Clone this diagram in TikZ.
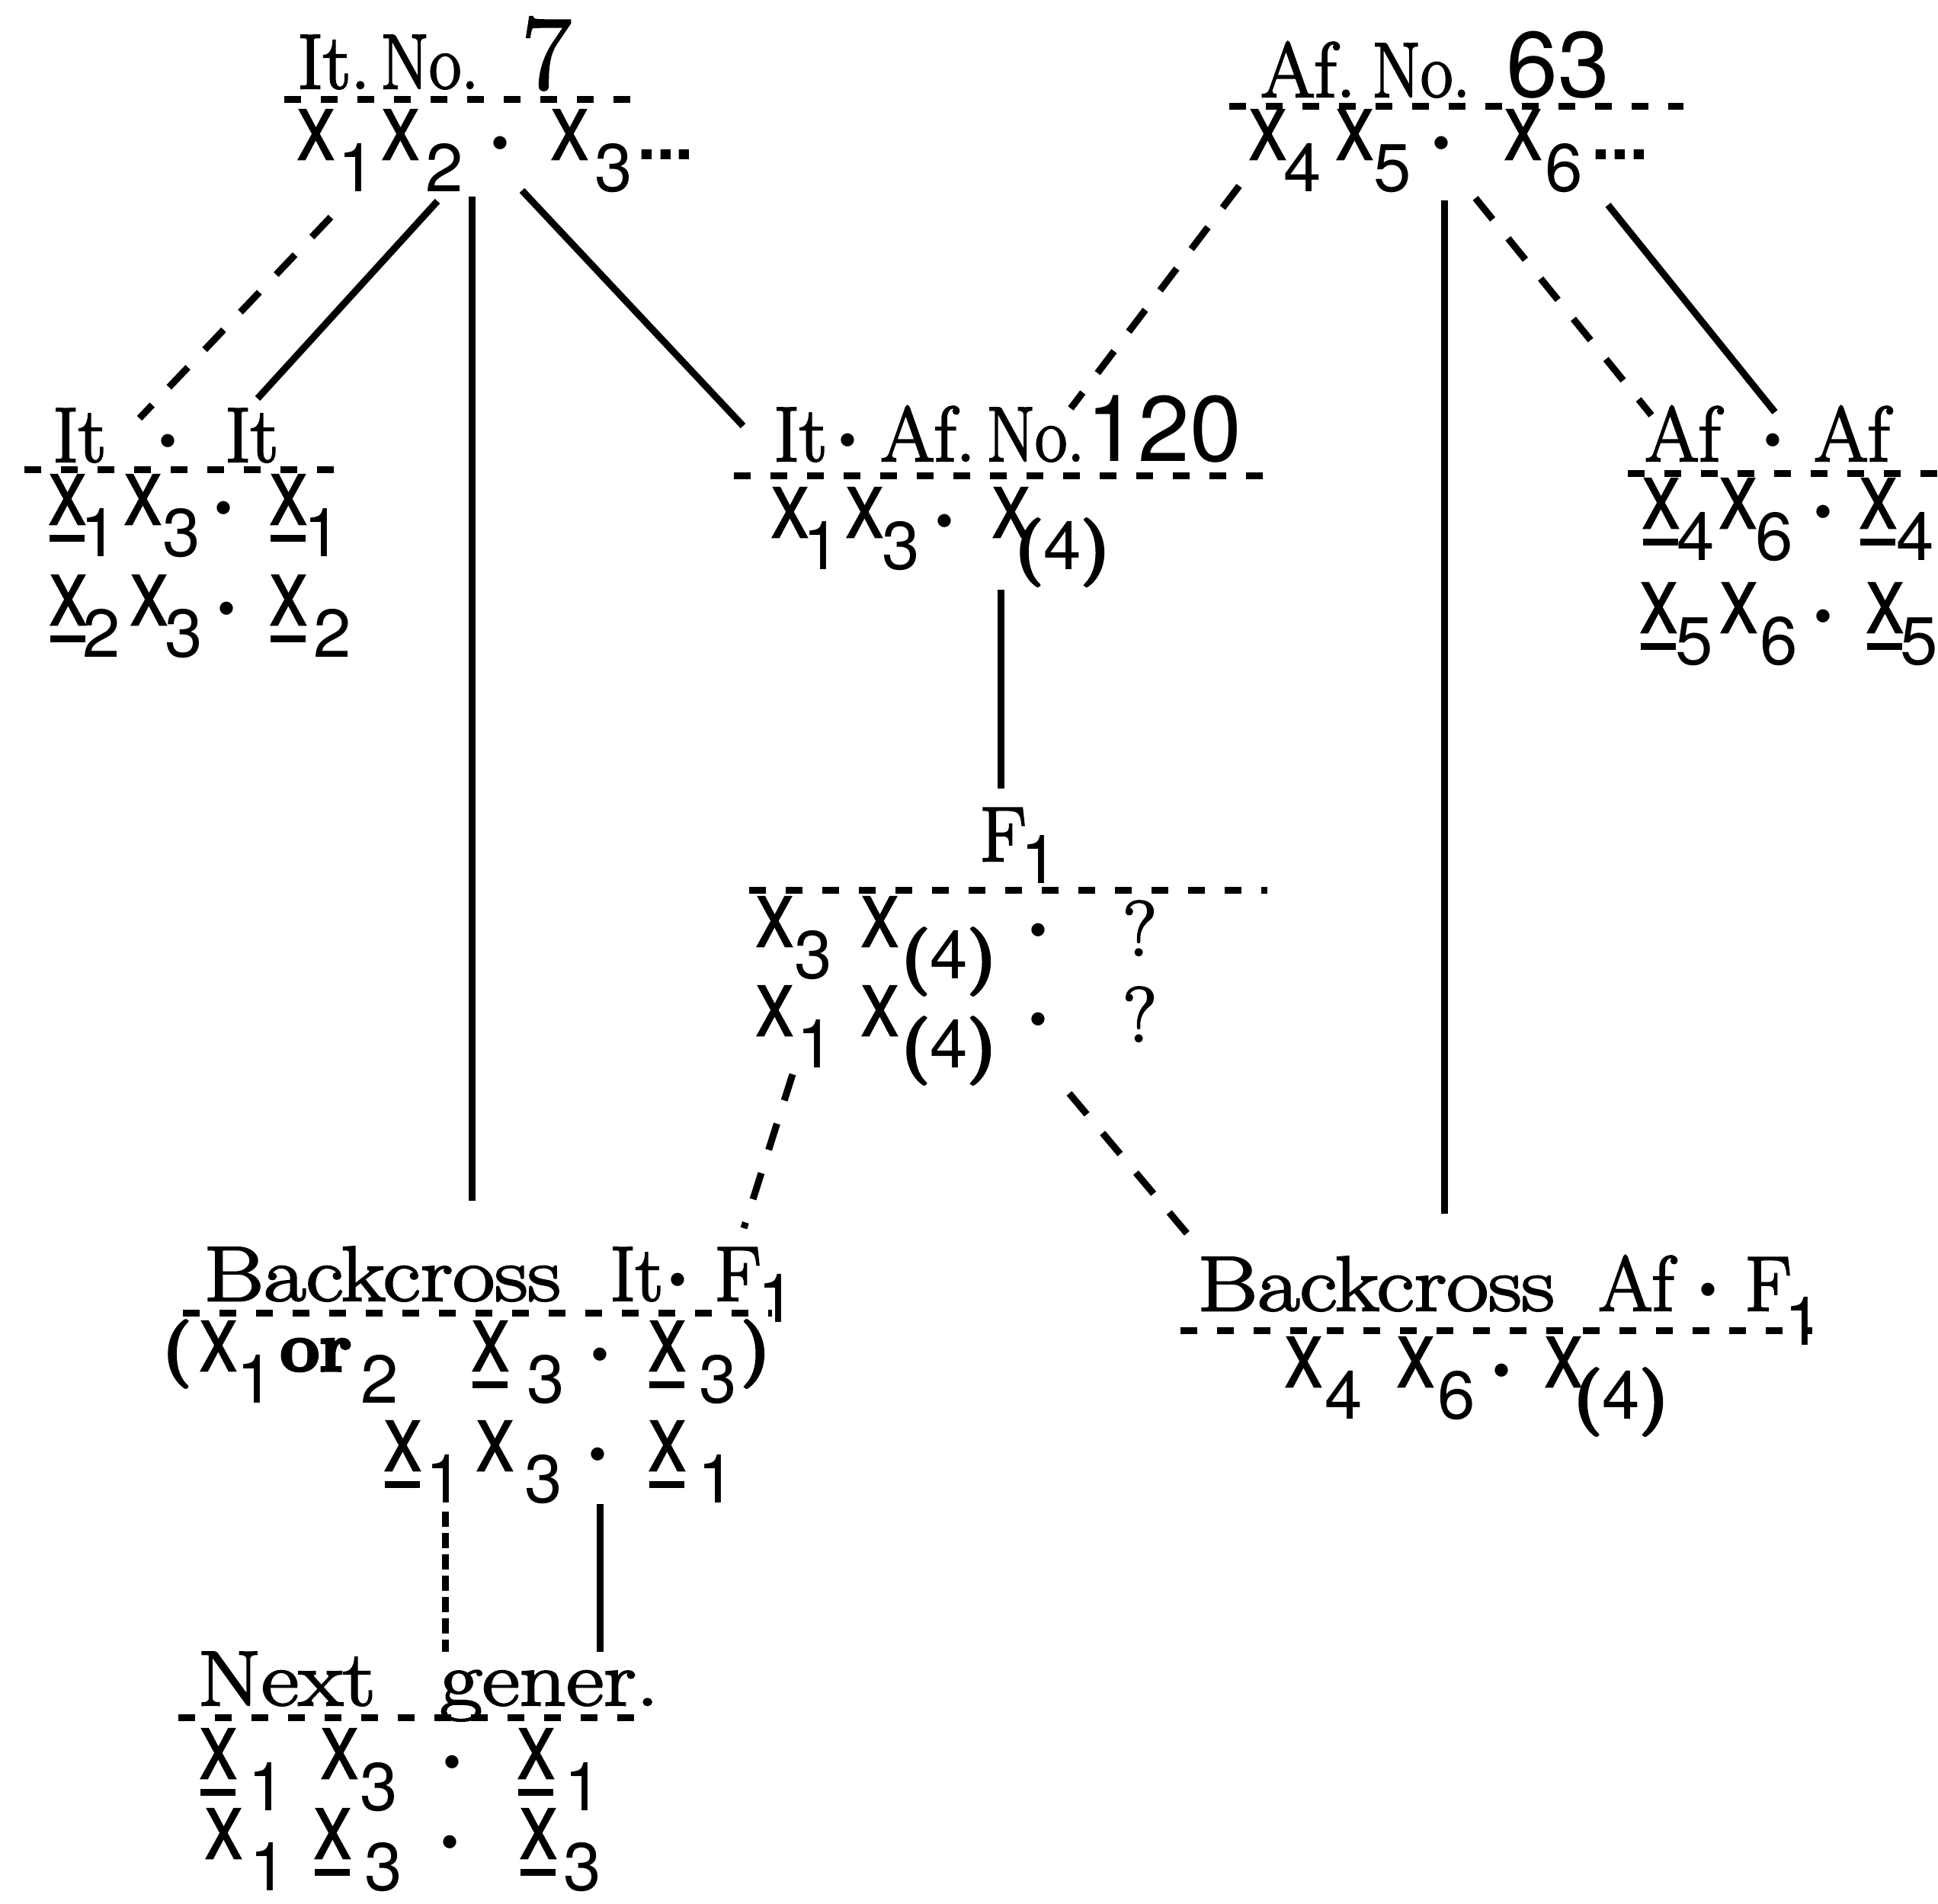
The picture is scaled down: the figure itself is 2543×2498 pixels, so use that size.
\documentclass[tikz,border=0pt]{standalone}
\usepackage{fontspec}
\usepackage{graphicx}
\newfontfamily\heros{TeX Gyre Heros}
\newfontfamily\herosX{TeX Gyre Heros}[FakeBold=3]
\newfontfamily\srm{Latin Modern Roman}[FakeBold=2.5]
\newfontfamily\srs{Latin Modern Roman}[FakeBold=2.5,FakeStretch=1.18]
\newfontfamily\parf{Latin Modern Roman}[FakeBold=4]
\newcommand\gsf{\heros\fontsize{89}{100}\selectfont}
\newcommand\rmf{\srm\fontsize{102}{110}\selectfont}
\newcommand\wide[1]{{\srs\fontsize{102}{110}\selectfont #1}}
\newcommand\gX{\scalebox{0.8}[1]{\herosX X}}
\newcommand\guX{\makebox[0pt][l]{\rule[-23pt]{46pt}{9pt}}\gX}
\newcommand\gsd[1]{\raisebox{-42pt}{#1}}
\newcommand\gpar[1]{{\parf\bfseries\fontsize{88}{90}\selectfont#1}}
\newcommand\gpf{\raisebox{-42pt}{\gpar{(}4\gpar{)}}}
\newcommand\gmd{\kern-4pt\raisebox{-7pt}{\heros\bfseries\fontsize{115}{120}\selectfont ·}}
\newcommand\tmd{\kern-4pt\raisebox{-1pt}{\heros\bfseries\fontsize{115}{120}\selectfont ·}}
\newcommand\gdots{{\heros\bfseries ...}}
\newcommand\nar[1]{\scalebox{0.9}[1]{#1}}
\newcommand\tk[2]{\makebox[0pt][l]{\hspace*{#1pt}#2}}
\newcommand\tsub[2]{\raisebox{-#1pt}{\gsf #2}}
\tikzset{
  lbl/.style={anchor=base west, inner sep=0pt, outer sep=0pt, font=\rmf},
  gtrow/.style={anchor=base west, inner sep=0pt, outer sep=0pt, font=\gsf},
  sepline/.style={line width=9pt, dash pattern=on 22pt off 26pt},
  link/.style={line width=9pt},
  dlink/.style={line width=9pt, dash pattern=on 36pt off 32pt},
  vdlink/.style={line width=9pt, dash pattern=on 20pt off 8pt}
}
\begin{document}
\begin{tikzpicture}[x=1pt,y=-1pt]
\fill[white] (0,0) rectangle (2543,2498);
\useasboundingbox (0,0) rectangle (2543,2498);

% ---------- It. No. 7 ----------
\node[lbl] (tA) at (390,116) {\tk{0}{It.}\tk{109}{\nar{No.}}\tk{295}{\fontsize{138}{140}\selectfont 7}};
\draw[sepline] (373,130) -- (843,130);
\node[gtrow] (rA) at (390,209) {\tk{0}{\gX}\tk{53}{\gsd{1}}\tk{111}{\gX}\tk{168}{\gsd{2}}\tk{254}{\gmd}\tk{333}{\gX}\tk{390}{\gsd{3}}\tk{446}{\gdots}};

% ---------- It . It ----------
\node[lbl] (tB) at (69,606) {\tk{0}{It}\tk{139}{\tmd}\tk{226}{It}};
\draw[sepline] (32,616) -- (456,616);
\node[gtrow] (rB1) at (64,688) {\tk{0}{\guX}\tk{41}{\gsd{1}}\tk{99}{\gX}\tk{149}{\gsd{3}}\tk{217}{\gmd}\tk{290}{\guX}\tk{334}{\gsd{1}}};
\node[gtrow] (rB2) at (65,820) {\tk{0}{\guX}\tk{43}{\gsd{2}}\tk{106}{\gX}\tk{151}{\gsd{3}}\tk{220}{\gmd}\tk{289}{\guX}\tk{346}{\gsd{2}}};

% ---------- It . Af. No. 120 ----------
\node[lbl] (tC) at (1015,605) {\tk{0}{It}\tk{85}{\tmd}\tk{140}{Af.}\tk{279}{\nar{No.}}\tk{410}{\heros\fontsize{122}{130}\selectfont 120}};
\draw[sepline] (963,624) -- (1683,624);
\node[gtrow] (rC) at (1012,705) {\tk{0}{\gX}\tk{41}{\gsd{1}}\tk{98}{\gX}\tk{145}{\gsd{3}}\tk{215}{\gmd}\tk{290}{\gX}\tk{318}{\gpf}};

% ---------- F1 ----------
\node[lbl] (tD) at (1285,1130) {\tk{0}{F}\tk{54}{\tsub{29}{1}}};
\draw[sepline] (983,1168) -- (1663,1168);
\node[gtrow] (rD1) at (992,1242) {\tk{0}{\gX}\tk{50}{\gsd{3}}\tk{138}{\gX}\tk{189}{\gpf}\tk{358}{\gmd}\tk{481}{\raisebox{-12pt}{\rmf ?}}};
\node[gtrow] (rD2) at (992,1359) {\tk{0}{\gX}\tk{53}{\gsd{1}}\tk{138}{\gX}\tk{189}{\gpf}\tk{358}{\gmd}\tk{481}{\raisebox{-8pt}{\rmf ?}}};

% ---------- Backcross It . F1 ----------
\node[lbl] (tE) at (267,1707) {\tk{0}{\wide{Backcross}}\tk{533}{It}\tk{610}{\tmd}\tk{670}{F}\tk{727}{\tsub{28}{1}}};
\draw[sepline] (240,1723) -- (1013,1723);
\node[gtrow] (rE1) at (262,1799) {\tk{-50}{\gpar{(}}\tk{0}{\gX}\tk{48}{\gsd{1}}\tk{105}{{\parf\bfseries\fontsize{92}{96}\selectfont or}}\tk{211}{\gsd{2}}\tk{357}{\guX}\tk{429}{\gsd{3}}\tk{513}{\gmd}\tk{589}{\guX}\tk{655}{\gsd{3}}\tk{710}{\gpar{)}}};
\node[gtrow] (rE2) at (504,1930) {\tk{0}{\guX}\tk{54}{\gsd{1}}\tk{121}{\gX}\tk{184}{\gsd{3}}\tk{268}{\gmd}\tk{347}{\guX}\tk{411}{\gsd{1}}};

% ---------- Next gener. ----------
\node[lbl] (tF) at (259,2238) {\tk{0}{\wide{Next}}\tk{318}{\wide{gener.}}};
\draw[sepline] (234,2254) -- (857,2254);
\node[gtrow] (rF1) at (262,2334) {\tk{0}{\guX}\tk{63}{\gsd{1}}\tk{159}{\gX}\tk{210}{\gsd{3}}\tk{319}{\gmd}\tk{417}{\guX}\tk{478}{\gsd{1}}};
\node[gtrow] (rF2) at (269,2439) {\tk{0}{\gX}\tk{58}{\gsd{1}}\tk{143}{\guX}\tk{209}{\gsd{3}}\tk{309}{\gmd}\tk{413}{\guX}\tk{470}{\gsd{3}}};

% ---------- Af. No. 63 ----------
\node[lbl] (tG) at (1654,127) {\tk{0}{Af.}\tk{146}{\nar{No.}}\tk{322}{\heros\fontsize{122}{130}\selectfont 63}};
\draw[sepline] (1613,139) -- (2209,139);
\node[gtrow] (rG) at (1639,209) {\tk{0}{\gX}\tk{45}{\gsd{4}}\tk{114}{\gX}\tk{163}{\gsd{5}}\tk{240}{\gmd}\tk{335}{\gX}\tk{388}{\gsd{6}}\tk{449}{\gdots}};

% ---------- Af . Af ----------
\node[lbl] (tH) at (2158,605) {\tk{0}{Af}\tk{156}{\tmd}\tk{222}{Af}};
\draw[sepline] (2136,621) -- (2543,621);
\node[gtrow] (rH1) at (2155,693) {\tk{0}{\guX}\tk{45}{\gsd{4}}\tk{101}{\gX}\tk{148}{\gsd{6}}\tk{225}{\gmd}\tk{285}{\guX}\tk{333}{\gsd{4}}};
\node[gtrow] (rH2) at (2152,830) {\tk{0}{\guX}\tk{46}{\gsd{5}}\tk{105}{\gX}\tk{157}{\gsd{6}}\tk{228}{\gmd}\tk{297}{\guX}\tk{341}{\gsd{5}}};

% ---------- Backcross Af . F1 ----------
\node[lbl] (tI) at (1571,1720) {\tk{0}{\wide{Backcross}}\tk{526}{Af}\tk{658}{\tmd}\tk{718}{F}\tk{770}{\tsub{45}{1}}};
\draw[sepline] (1549,1746) -- (2378,1746);
\node[gtrow] (rI) at (1686,1820) {\tk{0}{\gX}\tk{52}{\gsd{4}}\tk{147}{\gX}\tk{200}{\gsd{6}}\tk{272}{\gmd}\tk{341}{\gX}\tk{377}{\gpf}};

% ---------- connector ends ----------
\coordinate (A-dl) at (434,285);  \coordinate (B-dl) at (183,549);
\coordinate (A-sl) at (574,264);  \coordinate (B-sl) at (338,523);
\coordinate (A-v)  at (619,258);  \coordinate (E-v)  at (619,1576);
\coordinate (A-sr) at (685,250);  \coordinate (C-sl) at (975,559);
\coordinate (G-dl) at (1626,244); \coordinate (C-dr) at (1405,536);
\coordinate (G-v)  at (1895,263); \coordinate (I-v)  at (1895,1593);
\coordinate (G-dr) at (1936,260); \coordinate (H-dl) at (2167,545);
\coordinate (G-sr) at (2110,269); \coordinate (H-sr) at (2329,541);
\coordinate (C-v)  at (1313,774); \coordinate (D-v)  at (1313,1035);
\coordinate (D-dl) at (1040,1410);\coordinate (E-dr) at (976,1612);
\coordinate (D-dr) at (1403,1435);\coordinate (I-dl) at (1571,1635);
\coordinate (E-dd) at (584,1984); \coordinate (F-dd) at (584,2168);
\coordinate (E-sd) at (787,1974); \coordinate (F-sd) at (787,2168);

\draw[dlink] (A-dl) -- (B-dl);
\draw[link]  (A-sl) -- (B-sl);
\draw[link]  (A-v)  -- (E-v);
\draw[link]  (A-sr) -- (C-sl);
\draw[dlink] (G-dl) -- (C-dr);
\draw[link]  (G-v)  -- (I-v);
\draw[dlink] (G-dr) -- (H-dl);
\draw[link]  (G-sr) -- (H-sr);
\draw[link]  (C-v)  -- (D-v);
\draw[dlink] (D-dl) -- (E-dr);
\draw[dlink] (D-dr) -- (I-dl);
\draw[vdlink] (E-dd) -- (F-dd);
\draw[link]  (E-sd) -- (F-sd);
\end{tikzpicture}
\end{document}
